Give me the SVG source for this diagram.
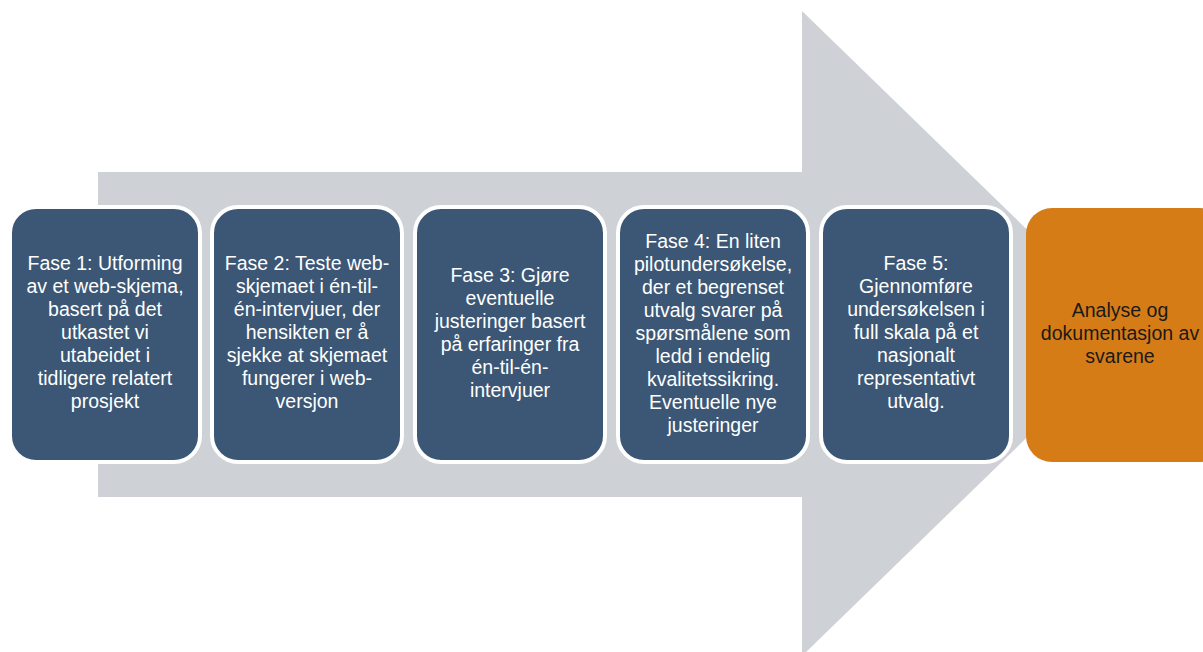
<svg xmlns="http://www.w3.org/2000/svg" width="1203" height="652" viewBox="0 0 1203 652">
<style>
.box{fill:#3B5775;stroke:#ffffff;stroke-width:4}
.last{fill:#D67C17}
.t{font-family:"Liberation Sans",Arial,sans-serif;font-size:19.5px;fill:#ffffff;text-anchor:middle}
.d{fill:#1a1a1a}
</style>
<rect width="1203" height="652" fill="#ffffff"/>
<g id="arrow">
<polygon points="98,172 802,172 802,11 1134,333.5 802,656 802,497 98,497" fill="#CED1D6"/>
</g>
<g id="connectors"></g>
<g id="fase1">
<rect class="box" x="10" y="207" width="190" height="255" rx="26"/>
<text class="t" x="105" y="270"><tspan x="105">Fase 1: Utforming</tspan><tspan x="105" dy="23">av et web-skjema,</tspan><tspan x="105" dy="23">basert på det</tspan><tspan x="105" dy="23">utkastet vi</tspan><tspan x="105" dy="23">utabeidet i</tspan><tspan x="105" dy="23">tidligere relatert</tspan><tspan x="105" dy="23">prosjekt</tspan></text>
</g>
<g id="fase2">
<rect class="box" x="212" y="207" width="190" height="255" rx="26"/>
<text class="t" x="307" y="270"><tspan x="307">Fase 2: Teste web-</tspan><tspan x="307" dy="23">skjemaet i én-til-</tspan><tspan x="307" dy="23">én-intervjuer, der</tspan><tspan x="307" dy="23">hensikten er å</tspan><tspan x="307" dy="23">sjekke at skjemaet</tspan><tspan x="307" dy="23">fungerer i web-</tspan><tspan x="307" dy="23">versjon</tspan></text>
</g>
<g id="fase3">
<rect class="box" x="415" y="207" width="190" height="255" rx="26"/>
<text class="t" x="510" y="282"><tspan x="510">Fase 3: Gjøre</tspan><tspan x="510" dy="23">eventuelle</tspan><tspan x="510" dy="23">justeringer basert</tspan><tspan x="510" dy="23">på erfaringer fra</tspan><tspan x="510" dy="23">én-til-én-</tspan><tspan x="510" dy="23">intervjuer</tspan></text>
</g>
<g id="fase4">
<rect class="box" x="618" y="207" width="190" height="255" rx="26"/>
<text class="t" x="713" y="248"><tspan x="713">Fase 4: En liten</tspan><tspan x="713" dy="23">pilotundersøkelse,</tspan><tspan x="713" dy="23">der et begrenset</tspan><tspan x="713" dy="23">utvalg svarer på</tspan><tspan x="713" dy="23">spørsmålene som</tspan><tspan x="713" dy="23">ledd i endelig</tspan><tspan x="713" dy="23">kvalitetssikring.</tspan><tspan x="713" dy="23">Eventuelle nye</tspan><tspan x="713" dy="23">justeringer</tspan></text>
</g>
<g id="fase5">
<rect class="box" x="821" y="207" width="190" height="255" rx="26"/>
<text class="t" x="916" y="270"><tspan x="916">Fase 5:</tspan><tspan x="916" dy="23">Gjennomføre</tspan><tspan x="916" dy="23">undersøkelsen i</tspan><tspan x="916" dy="23">full skala på et</tspan><tspan x="916" dy="23">nasjonalt</tspan><tspan x="916" dy="23">representativt</tspan><tspan x="916" dy="23">utvalg.</tspan></text>
</g>
<g id="analyse">
<rect class="last" x="1026" y="208" width="200" height="254" rx="26"/>
<text class="t d" x="1120" y="317"><tspan x="1120">Analyse og</tspan><tspan x="1120" dy="23">dokumentasjon av</tspan><tspan x="1120" dy="23">svarene</tspan></text>
</g>
</svg>
